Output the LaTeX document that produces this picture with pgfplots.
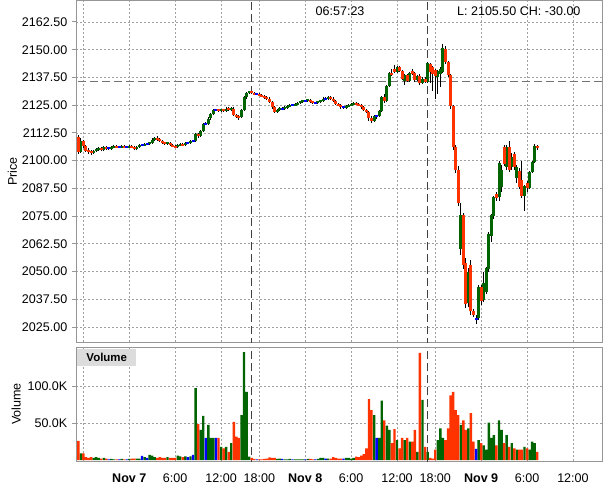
\documentclass[border=0pt]{standalone}
\usepackage{fontspec}
\setmainfont{Liberation Sans}
\usepackage{pgfplots}
\usepackage{pgfplotstable}
\pgfplotsset{compat=1.18}
\definecolor{cgreen}{RGB}{0,100,0}
\definecolor{cred}{RGB}{255,51,0}
\definecolor{cblue}{RGB}{0,0,255}
\definecolor{gridc}{RGB}{160,160,160}
\definecolor{framec}{RGB}{150,150,150}
\definecolor{boxc}{RGB}{220,220,220}

\pgfplotstableread{
k o h l c v
-20 2110.5 2111.5 2103 2104 26
-19 2104 2110 2103.5 2109 9
-18 2109 2109.5 2105.5 2106.5 9
-17 2106.5 2107 2104 2104.5 4
-16 2104.5 2105.5 2103 2104 3
-15 2104 2105 2102.5 2103.5 4
-14 2103.5 2105 2103 2104.5 3
-13 2104.5 2105.5 2104 2105 4
-12 2105 2106 2104.5 2105.5 3
-11 2105.5 2106 2104.5 2105 2
-10 2105 2106.5 2104.5 2106 3
-9 2106 2106.5 2105 2105.5 2
-8 2105.5 2106 2105 2105.5 1
-7 2105.5 2106.5 2105 2106 1.5
-6 2106 2107 2105.5 2106.5 1
-5 2106.5 2107 2105.5 2106 1
-4 2106 2106.5 2105.5 2106 1
-3 2106 2107 2105.5 2106.5 1.5
-2 2106.5 2107 2105.5 2106 1
-1 2106 2106.5 2105.5 2106 1
0 2106 2107 2105.5 2106.5 1.5
1 2106.5 2107 2105.5 2106 2
2 2106 2106.5 2105 2105.5 2
3 2105.5 2106.5 2105 2106 2
4 2106 2107.5 2105.5 2107 2
5 2107 2107.5 2106.5 2107 5.5
6 2107 2108 2106.5 2107.5 4
7 2107.5 2108 2107 2107.5 3
8 2107.5 2108.5 2107 2108 7
9 2108 2110 2107.5 2109.5 6
10 2109.5 2110.5 2109 2110 4
11 2110 2111 2109 2109.5 3
12 2109.5 2110 2108.5 2109 4
13 2109 2109.5 2107.5 2108 3
14 2108 2108.5 2107 2107.5 3
15 2107.5 2108.5 2107 2108 4
16 2108 2108.5 2106.5 2107 3
17 2107 2107.5 2106 2106.5 3
18 2106.5 2107 2105.5 2106 3
19 2106 2107.5 2105.5 2107 6
20 2107 2108 2106.5 2107.5 5
21 2107.5 2108 2106.5 2107 4
22 2107 2108.5 2106.5 2108 5
23 2108 2108.5 2107.5 2108 4
24 2108 2109.5 2107.5 2109 5
25 2109 2109.5 2108.5 2109 7
26 2109 2112.5 2108.5 2112 98
27 2112 2112.5 2110 2111 49
28 2111 2114 2110.5 2113.5 41
29 2113.5 2117 2113 2116.5 60
30 2116.5 2117.5 2116 2116.5 30
31 2116.5 2119.5 2116 2119 48
32 2119 2121.5 2118.5 2121 30
33 2121 2123.5 2120.5 2123 30
34 2123 2123.5 2122.5 2123 30
35 2123 2123.5 2122 2122.5 30
36 2122.5 2123.5 2122 2123 18
37 2123 2123.5 2122 2122.5 16
38 2122.5 2124 2122 2123.5 18
39 2123.5 2124 2122.5 2123 11
40 2123 2124 2122.5 2123.5 23
41 2123.5 2124 2120 2120.5 52
42 2120.5 2121 2119 2120 32
43 2120 2120.5 2118.5 2119.5 30
44 2119.5 2123.5 2119 2123 61
45 2123 2129 2122.5 2128.5 147
46 2128.5 2131 2128 2130.5 93
47 2130.5 2131.5 2130 2131 4.5
48 2131 2131.5 2130 2130.5 3
49 2130.5 2131 2129.5 2130 1.5
50 2130 2130.5 2129.5 2130 1
51 2130 2130.5 2129 2129.5 1
52 2129.5 2130 2128.5 2129 1
53 2129 2129.5 2128 2128.5 1.5
54 2128.5 2129 2127.5 2128 2
55 2128 2128.5 2126 2126.5 3.5
56 2126.5 2127 2123.5 2124 3
57 2124 2124.5 2121.5 2122 3
58 2122 2123.5 2121.5 2123 1.5
59 2123 2124 2122.5 2123.5 2
60 2123.5 2124 2123 2123.5 1.5
61 2123.5 2124.5 2123 2124 1
62 2124 2125 2123.5 2124.5 1
63 2124.5 2125.5 2124 2125 1.5
64 2125 2125.5 2124.5 2125 1
65 2125 2126 2124.5 2125.5 1
66 2125.5 2126.5 2125 2126 1
67 2126 2127 2125.5 2126.5 1
68 2126.5 2127.5 2126 2127 1
69 2127 2127.5 2126.5 2127 1
70 2127 2128 2126.5 2127.5 1.5
71 2127.5 2128 2126 2126.5 1.5
72 2126.5 2127 2125.5 2126 1
73 2126 2126.5 2125.5 2126 1
74 2126 2127 2125.5 2126.5 1.5
75 2126.5 2127.5 2126 2127 3
76 2127 2128.5 2126.5 2128 3
77 2128 2128.5 2127.5 2128 2
78 2128 2129 2127.5 2128.5 2
79 2128.5 2129 2127.5 2128 2
80 2128 2128.5 2126.5 2127 4
81 2127 2127.5 2125 2125.5 3
82 2125.5 2126 2124.5 2125 2
83 2125 2125.5 2123.5 2124 2
84 2124 2124.5 2123.5 2124 2
85 2124 2125 2123.5 2124.5 3
86 2124.5 2125.5 2124 2125 3
87 2125 2126 2124.5 2125.5 2
88 2125.5 2126.5 2125 2126 3
89 2126 2126.5 2125 2125.5 4.5
90 2125.5 2126 2124.5 2125 4
91 2125 2125.5 2123.5 2124 6
92 2124 2124.5 2122.5 2123 8
93 2123 2123.5 2121.5 2122 16
94 2122 2122.5 2118 2119 83
95 2119 2120 2117 2118 68
96 2118 2120.5 2117.5 2120 61
97 2120 2120.5 2119 2120 30
98 2120 2123 2119.5 2122.5 30
99 2122.5 2129 2122 2128.5 81
100 2128.5 2130 2126 2127 54
101 2127 2134 2126.5 2133.5 47
102 2133.5 2140 2133 2139.5 41
103 2139.5 2141.5 2138 2138.5 23
104 2141.5 2143 2139.5 2140 42
105 2140 2142.5 2139.5 2142 27
106 2142 2142.5 2140 2140.5 16
107 2140.5 2141 2136.5 2137 30
108 2136 2139 2134 2138.5 27
109 2138.5 2139 2135.5 2136 30
110 2136 2140 2135.5 2139.5 25
111 2140.5 2141.5 2138.5 2139 25
112 2139.5 2140 2135.5 2136.5 41
113 2136.5 2138.5 2136 2138 11
114 2138 2139 2134 2135 146
115 2135 2137.5 2134.5 2137 82
116 2137 2137.5 2135 2135.5 18
117 2135.5 2144.5 2135 2144 11
118 2143.5 2144 2135 2140 3
119 2142 2142.5 2131.5 2139 2
120 2141 2141.5 2128 2138 14
121 2137.5 2141 2130 2140.5 27
122 2139 2142 2133 2141.5 43
123 2140 2152.5 2139.5 2151 30
124 2150.5 2151.5 2143.5 2144.5 27
125 2144.5 2145 2137.5 2138.5 43
126 2138.5 2139 2123.5 2124.5 88
127 2124.5 2125 2105 2106 93
128 2106 2107 2094.5 2096 68
129 2096 2097.5 2079.5 2081 61
130 2060 2081 2057.5 2075.5 48
131 2075.5 2076.5 2051 2053 54
132 2054 2056 2033.5 2035.5 41
133 2036 2051.5 2034 2050 43
134 2053 2055 2030.5 2032 64
135 2032 2033 2029.5 2030.5 25
136 2028.5 2030.5 2026.5 2028.5 15
137 2029 2044 2028 2043 27
138 2043 2044 2035 2036.5 23
139 2037 2050 2036.5 2045 20
140 2041 2052 2040 2051.5 14
141 2051 2068 2050 2067 51
142 2066 2076 2063.5 2075.5 30
143 2075 2084 2073.5 2083.5 34
144 2085 2086 2082 2083 20
145 2083.5 2100 2082 2099 54
146 2088 2098 2086 2096 41
147 2106 2107 2097.5 2098.5 23
148 2097 2107 2096 2106 34
149 2106 2109 2095 2096 18
150 2097 2103.5 2096 2101.5 23
151 2103 2104 2096 2097 16
152 2092 2098 2090 2097 14
153 2095.5 2096.5 2087 2088 14
154 2091.5 2100 2083 2084 14
155 2084 2089 2077.5 2088.5 18
156 2090 2091 2086 2087.5 16
157 2087.5 2095.5 2087 2095 14
158 2095 2100 2094.5 2099.5 25
159 2099.5 2107.5 2099 2106.5 23
160 2106.5 2107 2105 2105.5 11
}\bars

\pgfplotsset{
  panel/.style={
    scale only axis, width=394.5pt,
    xmin=-20.9, xmax=185.4,
    axis line style={framec, line width=0.75pt},
    grid=major,
    grid style={gridc, line width=0.6pt, dash pattern=on 1.5pt off 1.5pt},
    xtick={-18,0,18,36,51,69,87,105,120,138,156,174},
    tick align=outside, ytick pos=left, xtick pos=bottom,
    major tick length=3pt,
    tick style={framec, line width=0.75pt},
    x tick style={draw=none},
    ticklabel style={font=\fontsize{9.4}{11}\selectfont},
    /pgf/number format/assume math mode=true,
    ylabel style={font=\fontsize{9.4}{11}\selectfont, anchor=base},
  },
  wick/.style={draw=none, mark=none, error bars/y dir=both, error bars/y explicit,
    error bars/error mark=none, error bars/error bar style={draw=black, line width=0.75pt}},
  body/.style={draw=none, mark=none, error bars/y dir=both, error bars/y explicit,
    error bars/error mark=none, error bars/error bar style={draw=#1, line width=2.25pt}},
  vbar/.style={ybar, bar width=0.95, bar shift=0pt, fill=#1, draw=none},
  vline/.style={black!75, line width=0.75pt, dash pattern=on 6pt off 3pt},
  hline/.style={black!55, line width=0.75pt, dash pattern=on 6pt off 3pt},
}

\begin{document}
\begin{tikzpicture}
\path[use as bounding box] (0,0) rectangle (456.75pt,366.75pt);

% Price panel
\begin{axis}[panel, at={(57pt,110.25pt)}, anchor=south west, height=255.75pt,
  ymin=2018.24, ymax=2171.97,
  ytick={2025,2037.5,2050,2062.5,2075,2087.5,2100,2112.5,2125,2137.5,2150,2162.5},
  yticklabels={2025.00,2037.50,2050.00,2062.50,2075.00,2087.50,2100.00,2112.50,2125.00,2137.50,2150.00,2162.50},
  xticklabels={},
  ylabel={Price},
  ylabel style={at={(axis description cs:-0.1122,0.5)}},
]
\addplot[hline] coordinates {(-25,2135.5) (190,2135.5)};
\addplot[vline] coordinates {(48,2000) (48,2200)};
\addplot[vline] coordinates {(116.85,2000) (116.85,2200)};
\addplot[wick] table[x=k, y expr={(\thisrow{h}+\thisrow{l})/2}, y error expr={(\thisrow{h}-\thisrow{l})/2}] {\bars};
\addplot[restrict y to domain=1900:2300, body=cgreen] table[x=k,
  y expr={(\thisrow{o}+\thisrow{c})/2 + 10000*(\thisrow{c}<=\thisrow{o})},
  y error expr={max(abs(\thisrow{c}-\thisrow{o})/2,0.45)}] {\bars};
\addplot[restrict y to domain=1900:2300, body=cred] table[x=k,
  y expr={(\thisrow{o}+\thisrow{c})/2 + 10000*(\thisrow{c}>=\thisrow{o})},
  y error expr={max(abs(\thisrow{c}-\thisrow{o})/2,0.45)}] {\bars};
\addplot[restrict y to domain=1900:2300, body=cblue] table[x=k,
  y expr={(\thisrow{o}+\thisrow{c})/2 + 10000*(\thisrow{c}!=\thisrow{o})},
  y error expr={0.45}] {\bars};
\node[font=\fontsize{9.4}{11}\selectfont, anchor=base] at (rel axis cs:0.502,0.956) {06:57:23};
\node[font=\fontsize{9.4}{11}\selectfont, anchor=base east] at (rel axis cs:0.968,0.956) {L: 2105.50 CH: -30.00};
\end{axis}

% Volume panel
\begin{axis}[panel, at={(57pt,21pt)}, anchor=south west, height=85.5pt,
  ymin=-1.36, ymax=154,
  ytick={50,100}, yticklabels={50.0K,100.0K},
  xticklabels={{},{\bfseries Nov 7},6:00,12:00,18:00,{\bfseries Nov 8},6:00,12:00,18:00,{\bfseries Nov 9},6:00,12:00},
  xticklabel style={anchor=base, yshift=-12.75pt},
  ylabel={Volume},
  ylabel style={at={(axis description cs:-0.1051,0.5)}},
]
\addplot[vline] coordinates {(48,-10) (48,200)};
\addplot[vline] coordinates {(116.85,-10) (116.85,200)};
\addplot[vbar=cgreen, restrict y to domain=0:1000] table[x=k,
  y expr={\thisrow{v} + 10000*(\thisrow{c}<=\thisrow{o})}] {\bars};
\addplot[vbar=cred, restrict y to domain=0:1000] table[x=k,
  y expr={\thisrow{v} + 10000*(\thisrow{c}>=\thisrow{o})}] {\bars};
\addplot[vbar=cblue, restrict y to domain=0:1000] table[x=k,
  y expr={\thisrow{v} + 10000*(\thisrow{c}!=\thisrow{o})}] {\bars};
\node[anchor=north west, fill=boxc, inner sep=0pt, minimum width=44.25pt, minimum height=12.4pt,
  font=\bfseries\fontsize{8.6}{10}\selectfont] at ([xshift=0.75pt,yshift=-1.5pt]rel axis cs:0,1) {Volume};
\end{axis}
\end{tikzpicture}
\end{document}
